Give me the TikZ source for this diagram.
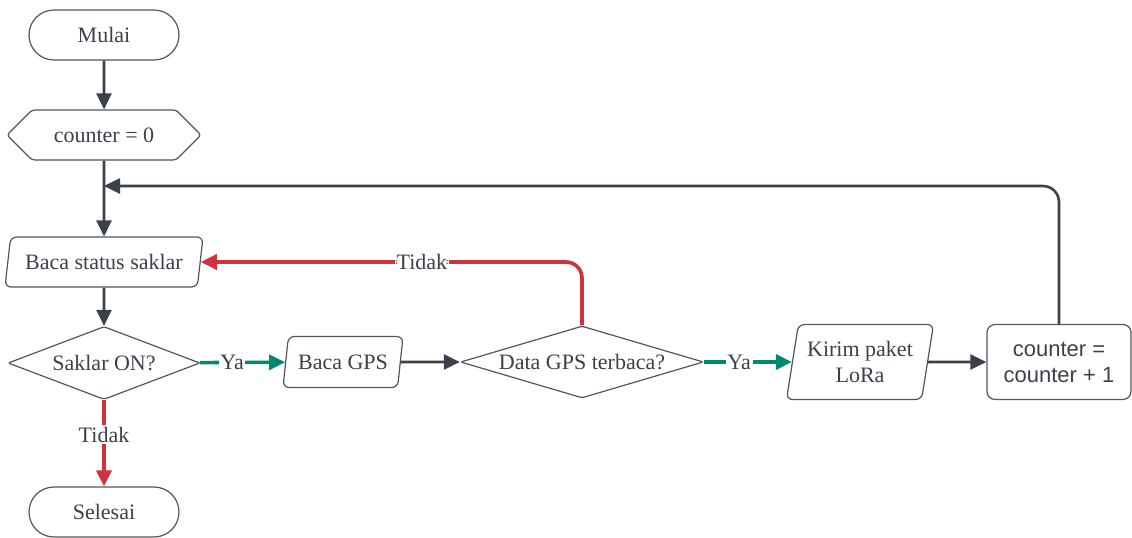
\documentclass[tikz,border=0pt]{standalone}
\usepackage{fontspec}
\setmainfont{Liberation Serif}
\setsansfont{Liberation Sans}
\usetikzlibrary{shapes.geometric,shapes.symbols,shapes.misc,arrows.meta}
\definecolor{ink}{HTML}{3A414A}
\definecolor{edge}{HTML}{50565E}
\definecolor{yesc}{HTML}{00896D}
\definecolor{noc}{HTML}{D1303E}
\begin{document}
\begin{tikzpicture}[x=0.5pt,y=-0.5pt,
  font=\fontsize{11}{13}\selectfont,
  box/.style={draw=edge, line width=0.6pt, text=ink, inner sep=0pt, align=center},
  terminal/.style={box, rounded rectangle, minimum width=75pt, minimum height=25pt},
  prep/.style={box, signal, signal to=east and west, signal pointer angle=90,
    minimum width=97pt, minimum height=25pt, rounded corners=1.5pt},
  io/.style={box, trapezium, trapezium left angle=70, trapezium right angle=110,
    trapezium stretches body, rounded corners=3pt},
  decision/.style={box, diamond, shape aspect=3.3, rounded corners=1pt},
  process/.style={box, rectangle, rounded corners=4pt, font=\sffamily\fontsize{11}{13}\selectfont},
  flow/.style={line width=1.3pt, draw=ink, -{Triangle[length=8pt,width=7.5pt]}},
  yes/.style={flow, draw=yesc, line width=1.8pt},
  no/.style={flow, draw=noc, line width=1.8pt},
  lbl/.style={fill=white, text=ink, inner sep=0.8pt}]
\useasboundingbox (0,0) rectangle (1132,537);

% left column
\node[terminal] (start) at (104,35) {Mulai};
\node[prep] (init) at (104,135) {counter = 0};
\node[io, minimum width=99pt, minimum height=25pt] (read) at (104,262) {Baca status saklar};
\node[decision, minimum width=96pt, minimum height=36.5pt] (sw) at (104,363) {Saklar ON?};
\node[terminal] (stop) at (104,512) {Selesai};

% main row
\node[io, minimum width=60pt, minimum height=25.5pt] (gps) at (343,362) {Baca GPS};
\node[decision, minimum width=121.5pt, minimum height=36pt] (chk) at (582,362) {Data GPS terbaca?};
\node[io, trapezium left angle=74, trapezium right angle=106,
      minimum width=73.5pt, minimum height=37.5pt] (send) at (860,362) {Kirim paket\\LoRa};
\node[process, minimum width=72pt, minimum height=37.5pt] (inc) at (1059,362) {counter =\\counter + 1};

\coordinate (join) at (104,186);

% connectors
\draw[flow] (start) -- (init);
\draw[flow] (init) -- (read);
\draw[flow, rounded corners=8pt] (inc.north) |- (join);
\draw[flow] (read) -- (sw);
\draw[yes] (sw) -- node[lbl, pos=0.38]{Ya} (gps);
\draw[no] (sw) -- node[lbl, pos=0.4]{Tidak} (stop);
\draw[flow] (gps) -- (chk);
\draw[yes] (chk) -- node[lbl, pos=0.4]{Ya} (send);
\draw[flow] (send) -- (inc);
\draw[no, rounded corners=8pt] (chk.north) |- node[lbl, pos=0.71]{Tidak} (read.east);
\end{tikzpicture}
\end{document}
